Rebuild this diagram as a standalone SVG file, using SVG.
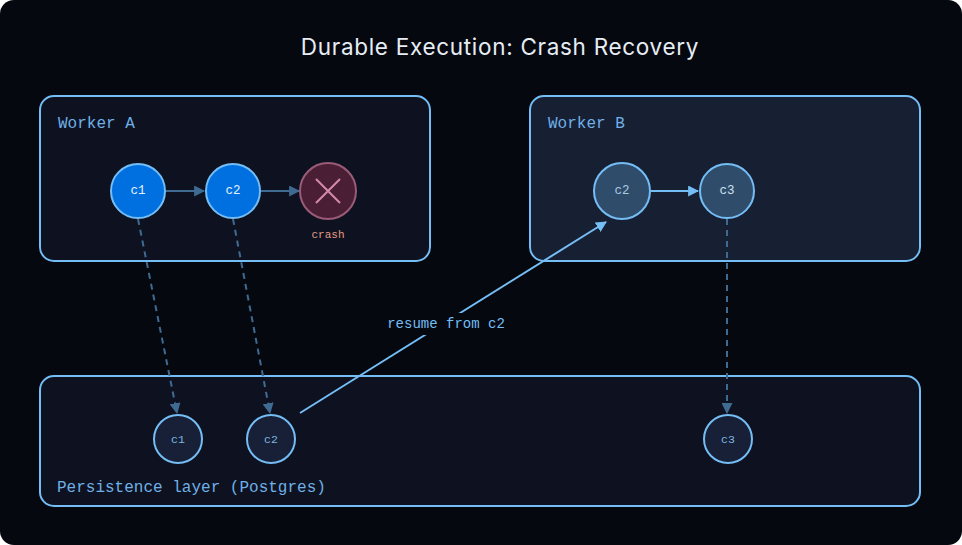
<svg xmlns="http://www.w3.org/2000/svg" width="962" height="545" viewBox="0 0 962 545">
<style>
.box{stroke:#74bdf5;stroke-width:2}
.lbl{font-family:"Liberation Mono","DejaVu Sans Mono",monospace;font-size:16px;fill:#6fb0e6}
.nt{font-family:"Liberation Mono","DejaVu Sans Mono",monospace;text-anchor:middle;dominant-baseline:central}
.dash{stroke:#3f6b93;stroke-width:2;stroke-dasharray:6 5;fill:none}
</style>
<defs>
<marker id="ad" viewBox="0 0 10 10" refX="9" refY="5" markerWidth="11" markerHeight="11" markerUnits="userSpaceOnUse" orient="auto">
<path d="M0,0 L10,5 L0,10 z" fill="#3f6b93"/>
</marker>
<marker id="al" viewBox="0 0 10 10" refX="9" refY="5" markerWidth="11" markerHeight="11" markerUnits="userSpaceOnUse" orient="auto">
<path d="M0,0 L10,5 L0,10 z" fill="#74bdf5"/>
</marker>
</defs>
<rect x="0" y="0" width="962" height="545" rx="14" fill="#05080f"/>
<text x="500" y="55" text-anchor="middle" font-family="Inter,'Noto Sans',sans-serif" font-size="22.5" letter-spacing="0.7" fill="#e6edf5">Durable Execution: Crash Recovery</text>

<g id="worker-a">
<rect class="box" x="40" y="96" width="390" height="165" rx="14" fill="#0e1220"/>
<text class="lbl" x="58" y="128">Worker A</text>
</g>
<g id="worker-b">
<rect class="box" x="530" y="96" width="390" height="165" rx="14" fill="#171f33"/>
<text class="lbl" x="548" y="128">Worker B</text>
</g>
<g id="persistence">
<rect class="box" x="40" y="376" width="880" height="130" rx="14" fill="#0e1220"/>
<text class="lbl" x="57" y="492">Persistence layer (Postgres)</text>
</g>

<g id="connectors">
<line x1="166" y1="191" x2="204" y2="191" stroke="#3f6b93" stroke-width="2" marker-end="url(#ad)"/>
<line x1="261" y1="191" x2="299" y2="191" stroke="#3f6b93" stroke-width="2" marker-end="url(#ad)"/>
<line x1="651" y1="191" x2="698" y2="191" stroke="#74bdf5" stroke-width="2" marker-end="url(#al)"/>
<line class="dash" x1="138" y1="219" x2="177" y2="413" marker-end="url(#ad)"/>
<line class="dash" x1="233" y1="219" x2="270" y2="413" marker-end="url(#ad)"/>
<line class="dash" x1="727" y1="219" x2="727" y2="413" marker-end="url(#ad)"/>
<line x1="300" y1="413" x2="606" y2="222" stroke="#74bdf5" stroke-width="2" marker-end="url(#al)"/>
<rect x="384" y="313" width="124" height="22" fill="#05080f"/>
<text x="446" y="324" font-family="'Liberation Mono','DejaVu Sans Mono',monospace" font-size="14" fill="#74bdf5" text-anchor="middle" dominant-baseline="central">resume from c2</text>
</g>

<g id="a-c1">
<circle cx="138" cy="191" r="27" fill="#0070e0" stroke="#74bdf5" stroke-width="2"/>
<text class="nt" x="138" y="191" font-size="12.5" fill="#e8f1fb">c1</text>
</g>
<g id="a-c2">
<circle cx="233" cy="191" r="27" fill="#0070e0" stroke="#74bdf5" stroke-width="2"/>
<text class="nt" x="233" y="191" font-size="12.5" fill="#e8f1fb">c2</text>
</g>
<g id="a-crash">
<circle cx="328" cy="191" r="28" fill="#4a1f35" stroke="#9a5a78" stroke-width="2"/>
<path d="M316,179 L340,203 M340,179 L316,203" stroke="#d58aaa" stroke-width="2"/>
<text x="328" y="235" font-family="'Liberation Mono','DejaVu Sans Mono',monospace" font-size="11" fill="#e39a86" text-anchor="middle" dominant-baseline="central">crash</text>
</g>
<g id="b-c2">
<circle cx="622" cy="191" r="28" fill="#2f4d6b" stroke="#74bdf5" stroke-width="2"/>
<text class="nt" x="622" y="191" font-size="12.5" fill="#a9c8e4">c2</text>
</g>
<g id="b-c3">
<circle cx="727" cy="191" r="27" fill="#2f4d6b" stroke="#74bdf5" stroke-width="2"/>
<text class="nt" x="727" y="191" font-size="12.5" fill="#cfe0f0">c3</text>
</g>
<g id="p-c1">
<circle cx="178" cy="439" r="24" fill="#172036" stroke="#74bdf5" stroke-width="2"/>
<text class="nt" x="178" y="439" font-size="11.5" fill="#7fb6e2">c1</text>
</g>
<g id="p-c2">
<circle cx="271" cy="439" r="24" fill="#172036" stroke="#74bdf5" stroke-width="2"/>
<text class="nt" x="271" y="439" font-size="11.5" fill="#7fb6e2">c2</text>
</g>
<g id="p-c3">
<circle cx="728" cy="439" r="24" fill="#172036" stroke="#74bdf5" stroke-width="2"/>
<text class="nt" x="728" y="439" font-size="11.5" fill="#7fb6e2">c3</text>
</g>
</svg>
